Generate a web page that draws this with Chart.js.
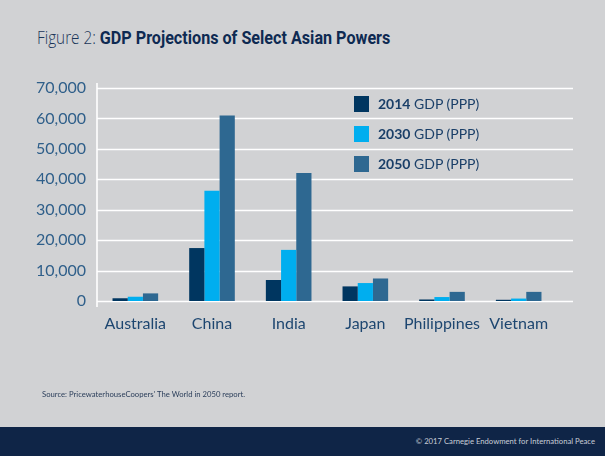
<!DOCTYPE html>
<html>
<head>
<meta charset="utf-8">
<script src="https://cdn.jsdelivr.net/npm/chart.js@4/dist/chart.umd.min.js"></script>
<style>
	html, body { margin: 0; padding: 0; }
	body {
		width: 605px;
		height: 456px;
		background: #d1d2d4;
		position: relative;
		overflow: hidden;
		font-family: Lato, 'Open Sans', sans-serif;
	}
	#title {
		position: absolute;
		left: 37px;
		top: 25px;
		font-size: 19px;
		color: #1a3558;
		white-space: nowrap;
		font-family: 'Roboto', sans-serif;
		transform: scaleX( 0.85 );
		transform-origin: left top;
	}
	#title .light { font-family: 'Open Sans', sans-serif; font-weight: 300; font-size: 18px; }
	#title b { color: #0e2a52; }
	#wrap { position: absolute; left: 0; top: 0; width: 605px; height: 456px; }
	#legend { position: absolute; left: 354px; top: 96px; }
	.row { position: relative; height: 30px; }
	.sw { position: absolute; left: 0; top: 0; width: 15px; height: 16px; }
	.lt {
		position: absolute;
		left: 24px;
		top: -1px;
		font-size: 14px;
		line-height: 18px;
		color: #1a3f68;
		white-space: nowrap;
	}
	#source {
		position: absolute;
		left: 42px;
		top: 389px;
		font-size: 7.7px;
		color: #2b3e5a;
	}
	#footer {
		position: absolute;
		left: 0;
		top: 427px;
		width: 605px;
		height: 29px;
		background: #0f2547;
	}
	#footer span {
		position: absolute;
		right: 10px;
		top: 9px;
		font-size: 7.7px;
		color: #c8cdd6;
	}
</style>
</head>
<body>
<div id="title"><span class="light">Figure 2: </span><b>GDP Projections of Select Asian Powers</b></div>
<div id="wrap"><canvas id="chart"></canvas></div>
<div id="legend"></div>
<div id="source">Source: PricewaterhouseCoopers' The World in 2050 report.</div>
<div id="footer"><span>© 2017 Carnegie Endowment for International Peace</span></div>
<script>
const countries = [ 'Australia', 'China', 'India', 'Japan', 'Philippines', 'Vietnam' ];
const gdp2014 = [ 900, 17400, 6900, 4800, 500, 400 ];
const gdp2030 = [ 1400, 36200, 16800, 5900, 1300, 800 ];
const gdp2050 = [ 2500, 61000, 42100, 7400, 3000, 3000 ];
const yTicks = [ 0, 10000, 20000, 30000, 40000, 50000, 60000, 70000 ];

const series = [
	{ year: '2014', values: gdp2014, color: '#003660' },
	{ year: '2030', values: gdp2030, color: '#00aeef' },
	{ year: '2050', values: gdp2050, color: '#2e6891' },
];

// legend built from the series
const legend = document.getElementById( 'legend' );
series.forEach( ( s ) => {
	const row = document.createElement( 'div' );
	row.className = 'row';
	row.innerHTML =
		'<div class="sw" style="background:' + s.color + '"></div>' +
		'<div class="lt"><b>' + s.year + '</b> GDP (PPP)</div>';
	legend.appendChild( row );
} );

// white grid lines and axis line, a little wider than the plot
const gridPlugin = {
	id: 'grid',
	beforeDatasetsDraw( chart ) {
		const { ctx, chartArea, scales } = chart;
		const y = scales.y;
		ctx.save();
		ctx.strokeStyle = '#ffffff';
		ctx.lineWidth = 1.6;
		yTicks.forEach( ( v ) => {
			const py = Math.round( y.getPixelForValue( v ) ) + 0.5;
			ctx.beginPath();
			ctx.moveTo( chartArea.left, py );
			ctx.lineTo( chartArea.right + 16, py );
			ctx.stroke();
		} );
		ctx.beginPath();
		ctx.moveTo( chartArea.left, chartArea.top - 5 );
		ctx.lineTo( chartArea.left, chartArea.bottom + 6 );
		ctx.stroke();
		ctx.restore();
	},
};

new Chart( document.getElementById( 'chart' ), {
	type: 'bar',
	data: {
		labels: countries,
		datasets: series.map( ( s ) => ( {
			label: s.year + ' GDP (PPP)',
			data: s.values,
			backgroundColor: s.color,
			borderWidth: 0,
			barPercentage: 1,
			categoryPercentage: 0.595,
		} ) ),
	},
	options: {
		responsive: true,
		maintainAspectRatio: false,
		animation: false,
		layout: { padding: { top: 88, right: 48, left: 0, bottom: 0 } },
		plugins: {
			legend: { display: false },
			tooltip: { enabled: false },
		},
		scales: {
			x: {
				grid: { display: false, drawTicks: false },
				border: { display: false },
				ticks: {
					padding: 13,
					color: '#1d4670',
					font: { family: 'Lato', size: 16 },
					maxRotation: 0,
					autoSkip: false,
				},
				afterFit( scale ) {
					scale.height = 155;
				},
			},
			y: {
				min: 0,
				max: 70000,
				grid: { display: false, drawTicks: false },
				border: { display: false },
				afterBuildTicks( scale ) {
					scale.ticks = yTicks.map( ( v ) => ( { value: v } ) );
				},
				ticks: {
					padding: 11,
					color: '#2f5f8a',
					font: { family: 'Lato', size: 16 },
					callback: ( v ) => v.toLocaleString( 'en-US' ),
				},
				afterFit( scale ) {
					scale.width = 97;
				},
			},
		},
	},
	plugins: [ gridPlugin ],
} );
</script>
</body>
</html>
